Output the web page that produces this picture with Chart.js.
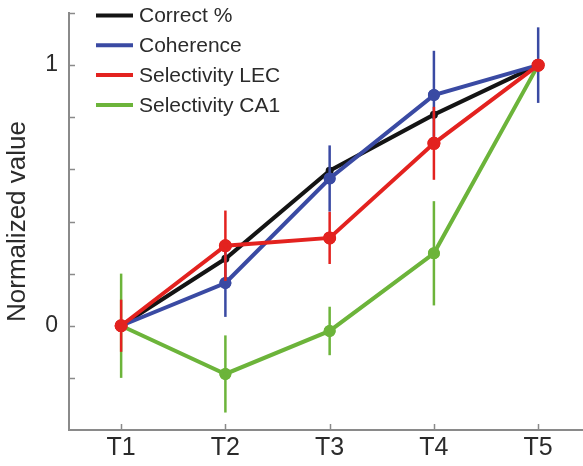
<!DOCTYPE html>
<html>
<head>
<meta charset="utf-8">
<script src="https://cdn.jsdelivr.net/npm/chart.js@4.4.0/dist/chart.umd.min.js"></script>
<style>
  html, body { margin: 0; padding: 0; background: #fff; }
  #wrap { width: 583px; height: 466px; }
</style>
</head>
<body>
<div id="wrap"><canvas id="myChart" width="583" height="466"></canvas></div>
<script>
// sessions on the x axis
const categories = ['T1', 'T2', 'T3', 'T4', 'T5'];

// series values (normalized)
const correctPct = [0, 0.257, 0.595, 0.81, 1];
const coherence = [0, 0.164, 0.565, 0.885, 1];
const selectivityLEC = [0, 0.307, 0.337, 0.70, 1];
const selectivityCA1 = [0, -0.185, -0.02, 0.278, 1];

// half-length of the error bars
const coherenceErr = [0, 0.13, 0.127, 0.17, 0.145];
const selectivityLECErr = [0.1, 0.135, 0.1, 0.14, 0];
const selectivityCA1Err = [0.2, 0.148, 0.093, 0.2, 0];

// y ticks: marks every 0.2, only 0 and 1 labelled
const yTickMarks = [-0.2, 0, 0.2, 0.4, 0.6, 0.8, 1, 1.2];
const yTickLabels = [0, 1];

const colors = {
	correct: '#141414',
	coherence: '#3a4aa3',
	lec: '#e3221f',
	ca1: '#6cb43a',
	axis: '#8a8a8a',
	text: '#2b2b2b',
};

function toPoints(arr) {
	return arr.map((v, i) => ({ x: i + 1, y: v }));
}

const datasets = [
	{
		label: 'Correct %',
		data: toPoints(correctPct),
		borderColor: colors.correct,
		backgroundColor: colors.correct,
		borderWidth: 4,
		pointRadius: 2,
		order: 3,
		errors: null,
	},
	{
		label: 'Coherence',
		data: toPoints(coherence),
		borderColor: colors.coherence,
		backgroundColor: colors.coherence,
		borderWidth: 4,
		pointRadius: 4,
		order: 2,
		errors: coherenceErr,
	},
	{
		label: 'Selectivity LEC',
		data: toPoints(selectivityLEC),
		borderColor: colors.lec,
		backgroundColor: colors.lec,
		borderWidth: 4,
		pointRadius: 4.5,
		order: 1,
		errors: selectivityLECErr,
	},
	{
		label: 'Selectivity CA1',
		data: toPoints(selectivityCA1),
		borderColor: colors.ca1,
		backgroundColor: colors.ca1,
		borderWidth: 4,
		pointRadius: 4,
		order: 4,
		errors: selectivityCA1Err,
	},
];

// error bars, drawn right after their own line so the stacking matches
const errorBars = {
	id: 'errorBars',
	afterDatasetDraw(chart, args) {
		const ds = chart.data.datasets[args.index];
		if (!ds.errors) return;
		const ctx = chart.ctx;
		const xs = chart.scales.x, ys = chart.scales.y;
		ctx.save();
		ctx.strokeStyle = ds.borderColor;
		ctx.lineWidth = 2.5;
		ds.data.forEach((p, i) => {
			const e = ds.errors[i];
			if (!e) return;
			const px = xs.getPixelForValue(p.x);
			ctx.beginPath();
			ctx.moveTo(px, ys.getPixelForValue(p.y + e));
			ctx.lineTo(px, ys.getPixelForValue(p.y - e));
			ctx.stroke();
		});
		// redraw the points on top of the bars
		args.meta.data.forEach((el) => el.draw(ctx, chart.chartArea));
		ctx.restore();
	}
};

// small tick marks pointing into the plot
const innerTicks = {
	id: 'innerTicks',
	afterDraw(chart) {
		const ctx = chart.ctx;
		const xs = chart.scales.x, ys = chart.scales.y;
		const a = chart.chartArea;
		ctx.save();
		ctx.strokeStyle = colors.axis;
		ctx.lineWidth = 1.5;
		yTickMarks.forEach((v) => {
			const py = Math.round(ys.getPixelForValue(v)) + 0.5;
			ctx.beginPath();
			ctx.moveTo(a.left, py);
			ctx.lineTo(a.left + 6, py);
			ctx.stroke();
		});
		xs.ticks.forEach((t) => {
			const px = Math.round(xs.getPixelForValue(t.value)) + 0.5;
			ctx.beginPath();
			ctx.moveTo(px, a.bottom);
			ctx.lineTo(px, a.bottom - 6);
			ctx.stroke();
		});
		ctx.restore();
	}
};

// legend in the top-left corner of the plot
const cornerLegend = {
	id: 'cornerLegend',
	afterDraw(chart) {
		const ctx = chart.ctx;
		ctx.save();
		ctx.font = '21px "Liberation Sans", Arial, sans-serif';
		ctx.textBaseline = 'middle';
		ctx.fillStyle = colors.text;
		chart.data.datasets.forEach((ds, i) => {
			const y = 15.5 + i * 29.8;
			ctx.strokeStyle = ds.borderColor;
			ctx.lineWidth = 4;
			ctx.beginPath();
			ctx.moveTo(96, y);
			ctx.lineTo(133, y);
			ctx.stroke();
			ctx.fillText(ds.label, 139, y + 1);
		});
		ctx.restore();
	}
};

const config = {
	type: 'line',
	data: { datasets: datasets },
	options: {
		responsive: false,
		animation: false,
		layout: { autoPadding: false, padding: { top: 13, right: 0, left: 0, bottom: 0 } },
		plugins: {
			legend: { display: false },
			tooltip: { enabled: false },
		},
		elements: { line: { tension: 0 } },
		scales: {
			x: {
				type: 'linear',
				min: 0.5,
				max: 5.43,
				grid: { display: false },
				border: { display: true, color: colors.axis, width: 2 },
				afterBuildTicks(scale) {
					scale.ticks = categories.map((c, i) => ({ value: i + 1 }));
				},
				afterFit(scale) {
					scale.height = 36;
					scale.paddingLeft = 0;
					scale.paddingRight = 0;
				},
				ticks: {
					color: colors.text,
					font: { family: '"Liberation Sans", Arial, sans-serif', size: 25 },
					padding: -5,
					maxRotation: 0,
					callback: (v) => categories[Math.round(v) - 1],
				},
			},
			y: {
				min: -0.4,
				max: 1.2,
				grid: { display: false },
				border: { display: true, color: colors.axis, width: 2 },
				afterBuildTicks(scale) {
					scale.ticks = yTickLabels.map((v) => ({ value: v }));
				},
				afterFit(scale) {
					scale.width = 69;
					scale.paddingTop = 0;
					scale.paddingBottom = 0;
				},
				ticks: {
					color: colors.text,
					font: { family: '"Liberation Sans", Arial, sans-serif', size: 23 },
					padding: 3,
					callback: (v) => String(v),
				},
				title: {
					display: true,
					text: 'Normalized value',
					color: colors.text,
					font: { family: '"Liberation Sans", Arial, sans-serif', size: 26 },
					padding: { top: 2, bottom: 0 },
				},
			},
		},
	},
	plugins: [errorBars, innerTicks, cornerLegend],
};

var myChart = new Chart(document.getElementById('myChart'), config);
</script>
</body>
</html>
